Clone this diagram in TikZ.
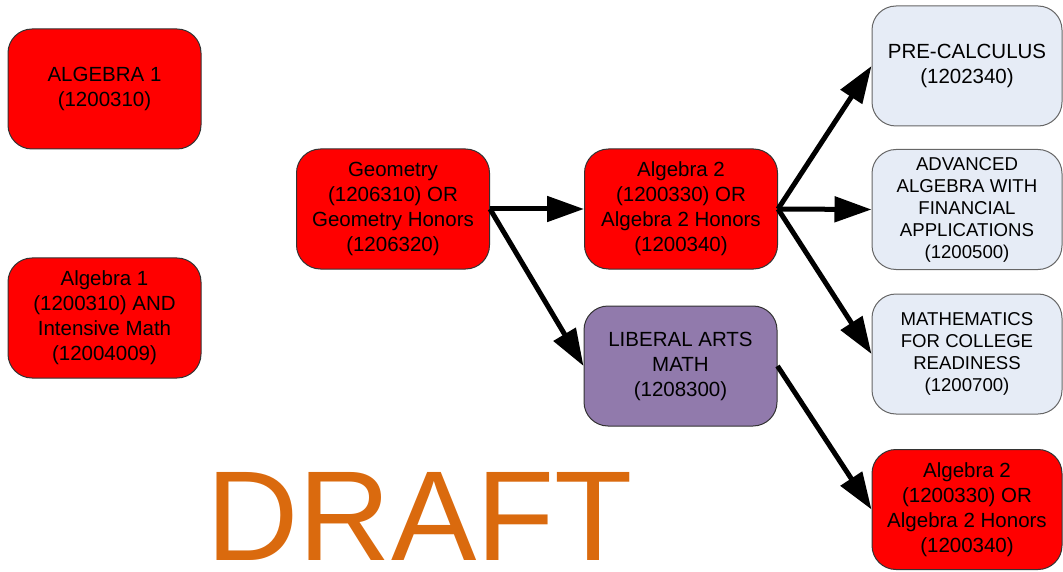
\documentclass[tikz,border=0pt]{standalone}
\usepackage{fontspec}
\setmainfont{Liberation Sans}
\usetikzlibrary{arrows.meta}
\definecolor{boxred}{RGB}{255,0,0}
\definecolor{boxblue}{RGB}{230,236,246}
\definecolor{boxpurple}{RGB}{145,122,172}
\definecolor{draftorange}{RGB}{218,106,14}
\begin{document}
\begin{tikzpicture}[x=1pt,y=-1pt,
        course/.style={draw=black!80,line width=1pt,rounded corners=24pt,
            minimum width=193pt,minimum height=120pt,align=center,inner sep=2pt,
            font=\fontsize{20.5}{25}\selectfont},
        required/.style={course,fill=boxred},
        elective/.style={course,fill=boxblue,draw=black!60,minimum width=190pt},
        small/.style={font=\fontsize{18.6}{22}\selectfont},
        path/.style={line width=5pt,-{Triangle[length=37pt,width=25pt]}}]
    \useasboundingbox (0,0) rectangle (1063,572);
    % freshman year
    \node[required] (alg1) at (104.5,89) {ALGEBRA 1\\(1200310)};
    \node[required] (alg1int) at (104.5,318) {Algebra 1\\(1200310) AND\\Intensive Math\\(12004009)};
    % sophomore and junior years
    \node[required] (geom) at (393,209) {Geometry\\(1206310) OR\\Geometry Honors\\(1206320)};
    \node[required] (algtwo) at (681,209) {Algebra 2\\(1200330) OR\\Algebra 2 Honors\\(1200340)};
    \node[course,fill=boxpurple] (liberal) at (680.5,366) {LIBERAL ARTS\\MATH\\(1208300)};
    % senior year
    \node[elective] (precalc) at (967,66) {PRE-CALCULUS\\(1202340)};
    \node[elective,small] (advanced) at (967,209.5) {ADVANCED\\ALGEBRA WITH\\FINANCIAL\\APPLICATIONS\\(1200500)};
    \node[elective,small] (college) at (967,354) {MATHEMATICS\\FOR COLLEGE\\READINESS\\(1200700)};
    \node[required,minimum width=190pt] (algtwob) at (967,509.5) {Algebra 2\\(1200330) OR\\Algebra 2 Honors\\(1200340)};
    \draw[path] (geom.east) -- (algtwo.west);
    \draw[path] (geom.east) -- (liberal.west);
    \draw[path] (algtwo.east) -- (precalc.west);
    \draw[path] (algtwo.east) -- (advanced.west);
    \draw[path] (algtwo.east) -- (college.west);
    \draw[path] (liberal.east) -- (algtwob.west);
    \node[anchor=base west,inner sep=0pt,text depth=0pt,text=draftorange,
        font=\fontsize{128}{128}\selectfont] (draft) at (206,560) {DRAFT};
\end{tikzpicture}
\end{document}
